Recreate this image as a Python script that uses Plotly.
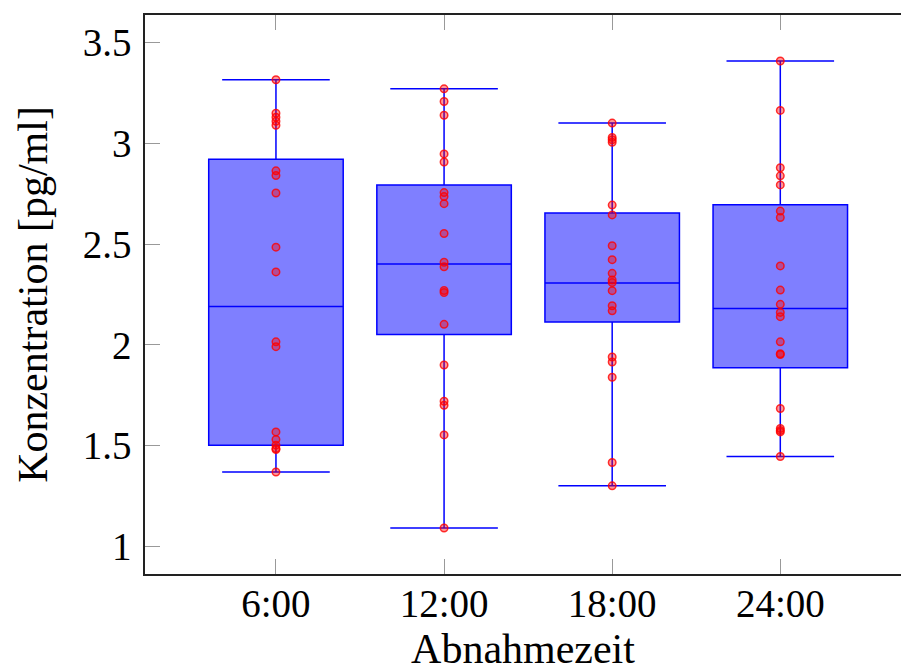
import plotly.graph_objects as go

# Sampling times (x categories)
categories = ["6:00", "12:00", "18:00", "24:00"]

# Measured concentrations [pg/ml] per sampling time
values_0600 = [3.316, 3.15, 3.13, 3.11, 3.09, 2.864, 2.841, 2.754, 2.485, 2.362,
               2.015, 1.991, 1.568, 1.53, 1.502, 1.485, 1.48, 1.369]
values_1200 = [3.271, 3.208, 3.14, 2.948, 2.908, 2.756, 2.736, 2.701, 2.553, 2.41,
               2.388, 2.27, 2.26, 2.102, 1.900, 1.72, 1.70, 1.553, 1.091]
values_1800 = [3.101, 3.03, 3.018, 3.006, 2.694, 2.645, 2.492, 2.423, 2.355, 2.322,
               2.309, 2.269, 2.194, 2.169, 1.940, 1.915, 1.839, 1.416, 1.300]
values_2400 = [3.409, 3.164, 2.879, 2.839, 2.794, 2.664, 2.632, 2.392, 2.272, 2.201,
               2.161, 2.140, 2.015, 1.956, 1.952, 1.684, 1.585, 1.575, 1.568, 1.446]

# Box statistics per sampling time
lower_whisker = [1.369, 1.091, 1.300, 1.446]
lower_quartile = [1.502, 2.052, 2.113, 1.886]
median = [2.190, 2.402, 2.307, 2.180]
upper_quartile = [2.922, 2.793, 2.654, 2.695]
upper_whisker = [3.316, 3.271, 3.101, 3.409]

# y-axis ticks
y_tickvals = [1, 1.5, 2, 2.5, 3, 3.5]
y_ticktext = ["1", "1.5", "2", "2.5", "3", "3.5"]

FONT = "Liberation Serif"

fig = go.Figure()

fig.add_trace(go.Box(
    x=categories,
    q1=lower_quartile,
    median=median,
    q3=upper_quartile,
    lowerfence=lower_whisker,
    upperfence=upper_whisker,
    width=0.8,
    whiskerwidth=0.8,
    boxpoints=False,
    fillcolor="rgba(0,0,255,0.5)",
    line=dict(color="rgb(0,0,255)", width=1.5),
    showlegend=False,
    hoverinfo="skip",
))

all_values = [values_0600, values_1200, values_1800, values_2400]
pts_x, pts_y = [], []
for cat, vals in zip(categories, all_values):
    pts_x += [cat] * len(vals)
    pts_y += vals

fig.add_trace(go.Scatter(
    x=pts_x,
    y=pts_y,
    mode="markers",
    marker=dict(symbol="circle", size=7.5,
                color="rgba(255,0,0,0.4)",
                line=dict(color="rgba(255,0,0,0.8)", width=1.5)),
    showlegend=False,
    hoverinfo="skip",
))

fig.update_layout(
    width=901,
    height=672,
    margin=dict(l=145, r=0, t=15, b=98),
    paper_bgcolor="white",
    plot_bgcolor="white",
    font=dict(family=FONT, size=39, color="black"),
    xaxis=dict(
        type="category",
        categoryorder="array",
        categoryarray=categories,
        range=[-0.779, 3.718],
        automargin=False,
        showgrid=False,
        zeroline=False,
        showline=True,
        linecolor="#222",
        linewidth=1.5,
        mirror="ticks",
        ticks="inside",
        ticklen=15,
        tickwidth=1,
        tickcolor="#999",
        ticklabelstandoff=-6,
        tickfont=dict(family=FONT, size=39),
        title=dict(text="Abnahmezeit", font=dict(family=FONT, size=42), standoff=29),
    ),
    yaxis=dict(
        range=[0.8625, 3.6375],
        tickvals=y_tickvals,
        ticktext=y_ticktext,
        automargin=False,
        showgrid=False,
        zeroline=False,
        showline=True,
        linecolor="#222",
        linewidth=1.5,
        mirror=False,
        ticks="inside",
        ticklen=15,
        tickwidth=1,
        tickcolor="#999",
        ticklabelstandoff=4,
        tickfont=dict(family=FONT, size=39),
        title=dict(text="Konzentration [pg/ml]", font=dict(family=FONT, size=42), standoff=22),
    ),
)

fig.write_html("out.html")
